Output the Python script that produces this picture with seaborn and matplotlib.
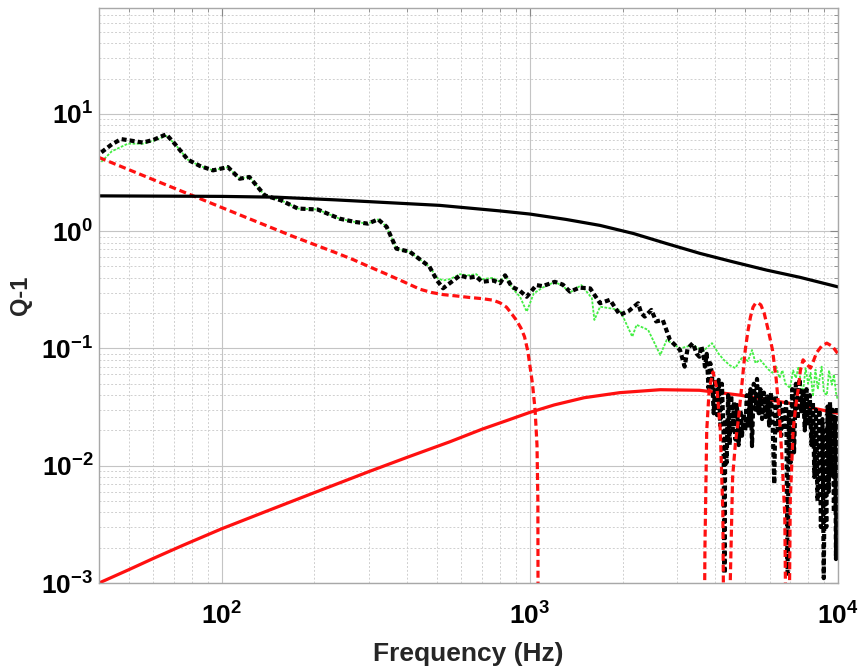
import numpy as np
import pandas as pd
import matplotlib
matplotlib.use("Agg")
import matplotlib.pyplot as plt
import seaborn as sns
from matplotlib.ticker import FixedLocator, LogLocator, NullFormatter, FixedFormatter

# measured Q^-1 (black dotted)
meas_f = [40.7, 44, 47.2, 51, 55.5, 60, 66.1, 70.4, 77.7, 85, 93.7, 104.8, 114.4, 123, 138, 156,
          176.6, 205, 241, 270, 298, 322, 343, 369, 408, 472, 500, 523, 550, 594, 630, 670, 700,
          760, 800, 831, 874, 929, 977, 1050, 1100, 1205, 1280, 1350, 1450, 1570, 1690, 1820,
          1960, 2100, 2245, 2300, 2360, 2480, 2570, 2700, 2850, 3070, 3180, 3250, 3380, 3480,
          3550, 3600, 3660, 3700, 3750, 3800, 3850, 3900, 3950, 4000, 4050, 4100, 4150, 4200,
          4250, 4280, 4310, 4350, 4400, 4450, 4500, 4550, 4600, 4650, 4700, 4760, 4820, 4880,
          4940, 5000, 5060, 5120, 5200, 5260, 5330, 5400, 5460, 5530, 5600, 5670, 5750, 5830,
          5900, 5980, 6060, 6130, 6210, 6280, 6360, 6460, 6540, 6620, 6700, 6790, 6860, 6930,
          7010, 7100, 7200, 7300, 7400, 7500, 7600, 7700, 7800, 7900, 7990, 8100, 8200, 8290,
          8380, 8480, 8580, 8700, 8800, 8900, 8990, 9080, 9160, 9250, 9330, 9420, 9500, 9600,
          9700, 9780, 9850, 9920, 9980]
meas_q = [4.7, 5.5, 6.1, 5.9, 5.7, 6.0, 6.7, 5.57, 4.07, 3.6, 3.3, 3.52, 2.8, 2.9, 2.02, 1.83,
          1.56, 1.53, 1.28, 1.2, 1.16, 1.26, 1.09, 0.71, 0.667, 0.50, 0.38, 0.326, 0.36, 0.42,
          0.40, 0.41, 0.37, 0.38, 0.36, 0.42, 0.336, 0.31, 0.276, 0.347, 0.34, 0.37, 0.35, 0.305,
          0.33, 0.325, 0.243, 0.26, 0.193, 0.21, 0.243, 0.2, 0.187, 0.213, 0.17, 0.175, 0.118,
          0.097, 0.070, 0.1, 0.111, 0.09,
          0.085, 0.105, 0.088, 0.07, 0.09, 0.046, 0.075, 0.060, 0.028, 0.055, 0.027, 0.054, 0.022,
          0.05, 0.02, 0.0012, 0.025, 0.0106, 0.04, 0.015, 0.04, 0.02, 0.035, 0.0167, 0.033,
          0.015, 0.03, 0.018, 0.028, 0.02, 0.04, 0.022, 0.045, 0.0147, 0.05, 0.03, 0.055, 0.028,
          0.045, 0.025, 0.042, 0.026, 0.039, 0.022, 0.042, 0.025, 0.007, 0.04, 0.02, 0.036,
          0.018, 0.032, 0.02, 0.035, 0.0012, 0.03, 0.0106, 0.045, 0.013, 0.05, 0.025, 0.055,
          0.028, 0.045, 0.02, 0.045, 0.022, 0.04, 0.015, 0.035, 0.008, 0.03, 0.005, 0.03, 0.003,
          0.025, 0.0011, 0.02, 0.003, 0.032, 0.006, 0.035, 0.008, 0.03, 0.004, 0.026, 0.0016,
          0.032, 0.01]

# second measurement (green)
meas2_f = [40.7, 44, 49.6, 55.5, 60, 66.1, 70.4, 77.7, 85, 93.7, 104.8, 114.4, 123, 138, 156,
           176.6, 205, 241, 270, 298, 322, 343, 369, 408, 472, 500, 523, 550, 594, 630, 670,
           700, 760, 800, 831, 874, 929, 977, 1030, 1100, 1205, 1280, 1350, 1470, 1590, 1620,
           1690, 1820, 1960, 2150, 2220, 2420, 2650, 2780, 3070, 3380, 3650, 3900, 4100, 4260,
           4450, 4640, 4900, 5100, 5260, 5400, 5580, 5760, 5950, 6130, 6300, 6460, 6600, 6750,
           6990, 7150, 7300, 7450, 7600, 7700, 7850, 8000, 8150, 8290, 8450, 8600, 8700, 8850,
           9000, 9200, 9350, 9550, 9700, 9850, 9970]
meas2_q = [3.9, 4.8, 5.57, 5.57, 5.9, 6.5, 5.57, 4.07, 3.6, 3.3, 3.52, 2.8, 2.9, 2.02, 1.83,
           1.56, 1.53, 1.28, 1.2, 1.16, 1.26, 1.09, 0.71, 0.667, 0.50, 0.40, 0.38, 0.39, 0.43,
           0.42, 0.43, 0.39, 0.40, 0.37, 0.42, 0.33, 0.276, 0.206, 0.295, 0.33, 0.37, 0.34, 0.30,
           0.347, 0.268, 0.175, 0.227, 0.22, 0.213, 0.126, 0.159, 0.144, 0.088, 0.118, 0.10,
           0.107, 0.095, 0.111, 0.09, 0.08, 0.072, 0.068, 0.085, 0.078, 0.097, 0.075, 0.08,
           0.073, 0.066, 0.062, 0.07, 0.056, 0.065, 0.05, 0.046, 0.065, 0.056, 0.07, 0.048, 0.043,
           0.068, 0.050, 0.062, 0.039, 0.066, 0.045, 0.054, 0.07, 0.042, 0.040, 0.065, 0.049,
           0.06, 0.042, 0.037]

# model 1 (red dashed), values below the axis drop out of view
mod1_f = [40, 60, 82, 120, 170, 233, 266, 300, 343, 390, 440, 480, 523, 580, 638, 700, 760,
          800, 840, 870, 903, 935, 961, 985, 1000, 1020, 1040, 1055, 1062, 1066, 3650, 3700,
          3750, 3820, 3930, 4050, 4150, 4230, 4300, 4470, 4550, 4650, 4760, 4880, 5000, 5100,
          5200, 5300, 5400, 5500, 5620, 5760, 5950, 6130, 6300, 6460, 6600, 6720, 6860, 7000,
          7150, 7300, 7420, 7550, 7700, 7900, 8140, 8320, 8520, 8850, 9200, 9600, 9970]
mod1_q = [4.25, 2.75, 1.97, 1.31, 0.905, 0.66, 0.575, 0.5, 0.43, 0.37, 0.32, 0.30, 0.288, 0.28,
          0.272, 0.266, 0.258, 0.245, 0.225, 0.2, 0.175, 0.15, 0.126, 0.095, 0.072, 0.05, 0.03,
          0.015, 0.005, 1e-5, 1e-5, 0.002, 0.02, 0.045, 0.063, 0.045, 0.02, 0.004, 1e-5, 0.001,
          0.008, 0.016, 0.026, 0.05, 0.097, 0.14, 0.186, 0.225, 0.243, 0.245, 0.235, 0.2, 0.14,
          0.097, 0.055, 0.026, 0.01, 0.0037, 1e-5, 0.005, 0.02, 0.033, 0.044, 0.065, 0.08,
          0.074, 0.068, 0.078, 0.092, 0.105, 0.111, 0.104, 0.091]

# model 2 (red solid)
mod2_f = [40, 50, 60, 75, 100, 140, 200, 300, 400, 550, 700, 850, 1000, 1200, 1500, 1960, 2650,
          3550, 4800, 7000, 10000]
mod2_q = [0.001, 0.0013, 0.00162, 0.0021, 0.0029, 0.0041, 0.0059, 0.0089, 0.0118, 0.016, 0.0205,
          0.0245, 0.0285, 0.033, 0.038, 0.042, 0.0445, 0.044, 0.040, 0.034, 0.028]

# model 3 (black solid)
mod3_f = [40, 100, 150, 233, 510, 797, 1000, 1310, 1690, 2170, 2770, 3570, 4560, 5860, 7530, 10000]
mod3_q = [2.0, 1.98, 1.95, 1.85, 1.66, 1.49, 1.40, 1.26, 1.12, 0.955, 0.786, 0.646, 0.548,
          0.466, 0.404, 0.335]

sns.set_style("white")
plt.rcParams['font.family'] = ['Liberation Sans', 'DejaVu Sans']
plt.rcParams['mathtext.fontset'] = 'custom'
plt.rcParams['mathtext.rm'] = 'Liberation Sans:bold'
plt.rcParams['mathtext.bf'] = 'Liberation Sans:bold'
plt.rcParams['mathtext.it'] = 'Liberation Sans:bold'

fig = plt.figure(figsize=(8.58, 6.66), dpi=100)
ax = fig.add_axes([0.1154, 0.1246, 0.8613, 0.8634])

sns.lineplot(x=mod2_f, y=mod2_q, ax=ax, color='#ff1010', lw=2.3, sort=False, estimator=None)
sns.lineplot(x=meas2_f, y=meas2_q, ax=ax, color='#44ee44', lw=1.3, sort=False, estimator=None,
             linestyle=(0, (1.5, 0.8)))
sns.lineplot(x=meas_f, y=meas_q, ax=ax, color='black', lw=3.0, sort=False, estimator=None,
             linestyle=(0, (1.2, 0.75)))
sns.lineplot(x=mod1_f, y=mod1_q, ax=ax, color='#ff1010', lw=2.3, sort=False, estimator=None,
             linestyle=(0, (2.2, 1.2)))
sns.lineplot(x=mod3_f, y=mod3_q, ax=ax, color='black', lw=2.3, sort=False, estimator=None)

ax.set_xscale('log')
ax.set_yscale('log')
ax.set_xlim(40, 1e4)
ax.set_ylim(1e-3, 80)

xt = [1e2, 1e3, 1e4]
yt = [1e-3, 1e-2, 1e-1, 1e0, 1e1]
ax.xaxis.set_major_locator(FixedLocator(xt))
ax.xaxis.set_major_formatter(FixedFormatter([r'$\mathbf{10^{2}}$', r'$\mathbf{10^{3}}$', r'$\mathbf{10^{4}}$']))
ax.yaxis.set_major_locator(FixedLocator(yt))
ax.yaxis.set_major_formatter(FixedFormatter([r'$\mathbf{10^{-3}}$', r'$\mathbf{10^{-2}}$',
                                             r'$\mathbf{10^{-1}}$', r'$\mathbf{10^{0}}$',
                                             r'$\mathbf{10^{1}}$']))
ax.xaxis.set_minor_locator(LogLocator(base=10, subs=np.arange(2, 10), numticks=20))
ax.yaxis.set_minor_locator(LogLocator(base=10, subs=np.arange(2, 10), numticks=20))
ax.xaxis.set_minor_formatter(NullFormatter())
ax.yaxis.set_minor_formatter(NullFormatter())

ax.grid(which='major', color='#c4c4c4', lw=0.8, linestyle='-')
ax.grid(which='minor', color='#cfcfcf', lw=0.7, linestyle=(0, (2, 2)))
ax.set_axisbelow(True)

ax.tick_params(which='both', direction='in', colors='#888888', top=True, right=True,
               labelcolor='black', labelsize=19)
ax.tick_params(which='major', length=6, width=0.8)
ax.tick_params(which='minor', length=3, width=0.6)
ax.tick_params(axis='x', which='major', pad=14)
ax.tick_params(axis='y', which='major', pad=4)
for s in ax.spines.values():
    s.set_color('#a8a8a8')
    s.set_linewidth(1.0)

ax.set_xlabel('Frequency (Hz)', fontsize=19, fontweight='bold')
ax.set_ylabel('Q-1', fontsize=17, fontweight='bold')
ax.xaxis.set_label_coords(0.5, -0.103)
ax.yaxis.set_label_coords(-0.091, 0.5)

fig.savefig('out.png', dpi=100)
